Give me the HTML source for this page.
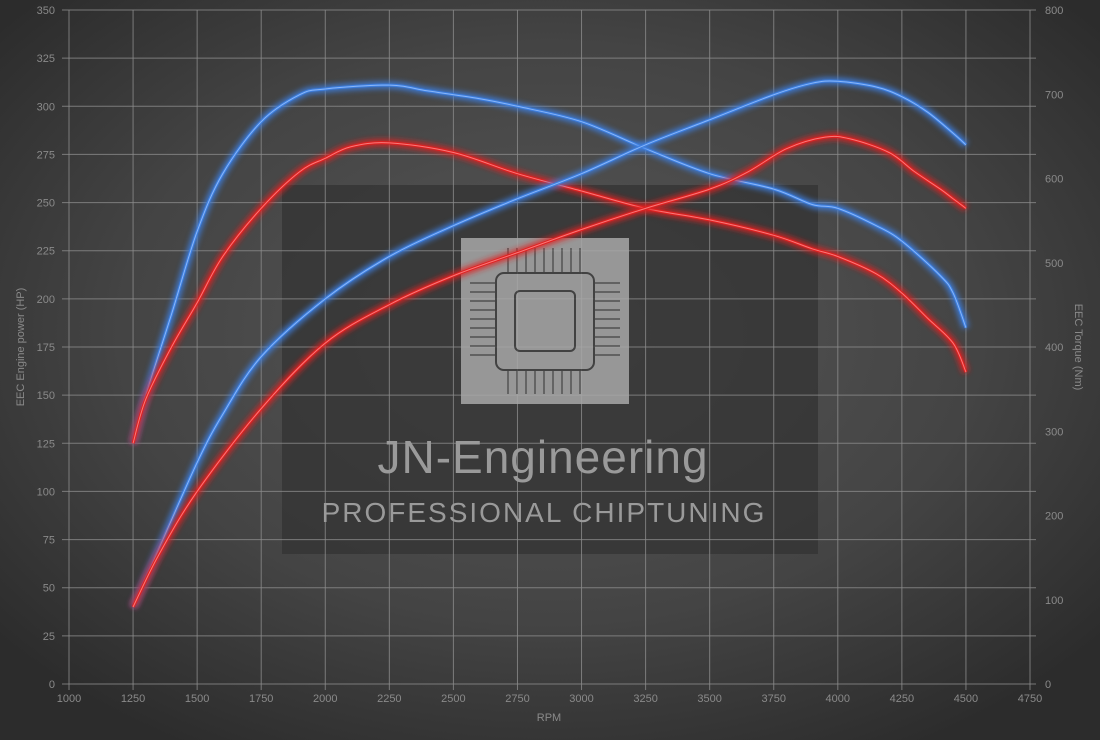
<!DOCTYPE html><html><head><style>
html,body{margin:0;padding:0;background:#333}
svg{display:block}
text{font-family:"Liberation Sans",sans-serif;fill:#8a8a8a;font-size:11px}
</style></head><body>
<svg id="s" width="1100" height="740" xmlns="http://www.w3.org/2000/svg">
<defs>
<radialGradient id="bg" cx="50%" cy="45%" r="65%">
<stop offset="0" stop-color="#575757"/><stop offset="0.6" stop-color="#444"/><stop offset="1" stop-color="#2c2c2c"/>
</radialGradient>
<filter id="glow" x="-10%" y="-10%" width="120%" height="120%"><feGaussianBlur stdDeviation="3"/></filter>
</defs>
<rect width="1100" height="740" fill="url(#bg)"/>
<rect x="282" y="185" width="536" height="369" fill="#333" opacity="0.75"/>
<g id="grid"></g>
<g id="lbl"></g>
<text x="24" y="347" transform="rotate(-90 24 347)" text-anchor="middle">EEC Engine power (HP)</text>
<text x="1075" y="347" transform="rotate(90 1075 347)" text-anchor="middle">EEC Torque (Nm)</text>
<text x="549" y="721" text-anchor="middle">RPM</text>
<g opacity="0.85">
<rect x="461" y="238" width="168" height="166" fill="#a8a8a8"/>
<rect x="496" y="273" width="98" height="97" rx="8" fill="none" stroke="#444" stroke-width="2"/>
<rect x="515" y="291" width="60" height="60" rx="5" fill="none" stroke="#444" stroke-width="2"/>
<g stroke="#444" stroke-width="1.2" id="traces"></g>
</g>
<text x="543" y="473" text-anchor="middle" style="font-size:46px;fill:#9a9a9a;letter-spacing:1px">JN-Engineering</text>
<text x="544" y="522" text-anchor="middle" style="font-size:28px;fill:#9a9a9a;letter-spacing:2px">PROFESSIONAL CHIPTUNING</text>
<g id="curves"></g>
</svg>
<script>
var NS="http://www.w3.org/2000/svg";
function X(r){return 69+(r-1000)*64.067/250}
function Y(h){return 684-h*1.92571}
function el(t,a,p){var e=document.createElementNS(NS,t);for(var k in a)e.setAttribute(k,a[k]);p.appendChild(e);return e}
var g=document.getElementById('grid'),l=document.getElementById('lbl');
for(var r=1000;r<=4750;r+=250){el('line',{x1:X(r),x2:X(r),y1:10,y2:690,stroke:'#8c8c8c','stroke-width':1,opacity:.8},g);
 var t=el('text',{x:X(r),y:702,'text-anchor':'middle'},l);t.textContent=r;}
for(var h=0;h<=350;h+=25){el('line',{x1:62,x2:1036,y1:Y(h),y2:Y(h),stroke:'#8c8c8c','stroke-width':1,opacity:.8},g);
 var t=el('text',{x:55,y:Y(h)+4,'text-anchor':'end'},l);t.textContent=h;}
for(var n=0;n<=800;n+=100){var t=el('text',{x:1045,y:684-n*0.8425+4},l);t.textContent=n;}
var tr=document.getElementById('traces');
for(var i=0;i<9;i++){var x=508+i*9;el('line',{x1:x,x2:x,y1:273,y2:248},tr);el('line',{x1:x,x2:x,y1:370,y2:394},tr);
 var y=283+i*9;el('line',{x1:470,x2:496,y1:y,y2:y},tr);el('line',{x1:594,x2:620,y1:y,y2:y},tr);}
function path(pts){var p=pts.map(function(a){return[X(a[0]),Y(a[1])]});var d='M'+p[0][0]+','+p[0][1];
 for(var i=0;i<p.length-1;i++){var p0=p[i-1]||p[i],p1=p[i],p2=p[i+1],p3=p[i+2]||p2;
 d+='C'+(p1[0]+(p2[0]-p0[0])/6)+','+(p1[1]+(p2[1]-p0[1])/6)+' '+(p2[0]-(p3[0]-p1[0])/6)+','+(p2[1]-(p3[1]-p1[1])/6)+' '+p2[0]+','+p2[1];}return d}
var S=[
['#3d7fe0',[[1250,125],[1300,150],[1400,192],[1500,235],[1600,265],[1750,292],[1900,306],[2000,309],[2250,311],[2400,308],[2600,304],[2750,300],[3000,292],[3250,278],[3500,265],[3750,257],[3900,249],[4000,247],[4150,238],[4250,230],[4400,212],[4450,203],[4500,185]]],
['#e02020',[[1250,125],[1300,148],[1400,175],[1500,198],[1600,222],[1750,247],[1900,266],[2000,273],[2100,279],[2250,281],[2500,276],[2750,265],[3000,256],[3250,247],[3500,241],[3750,233],[3900,226],[4000,222],[4150,213],[4250,203],[4350,190],[4450,177],[4500,162]]],
['#3d7fe0',[[1250,40],[1350,70],[1500,115],[1600,140],[1750,170],[2000,200],[2250,222],[2500,238],[2750,252],[3000,265],[3250,280],[3500,293],[3750,306],[3900,312],[4000,313],[4150,310],[4250,305],[4350,297],[4450,286],[4500,280]]],
['#e02020',[[1250,40],[1350,67],[1500,100],[1750,143],[2000,177],[2250,197],[2500,212],[2750,224],[3000,236],[3250,247],[3500,257],[3650,266],[3800,278],[3950,284],[4050,283],[4200,276],[4300,266],[4400,257],[4450,252],[4500,247]]]];
var c=document.getElementById('curves');
S.forEach(function(s){var d=path(s[1]);
 el('path',{d:d,fill:'none',stroke:s[0],'stroke-width':7,filter:'url(#glow)',opacity:.9},c);
 el('path',{d:d,fill:'none',stroke:s[0],'stroke-width':3},c);
 el('path',{d:d,fill:'none',stroke:s[0]=='#e02020'?'#ff9090':'#9cc4ff','stroke-width':1,opacity:.8},c);});
</script>
</body></html>
